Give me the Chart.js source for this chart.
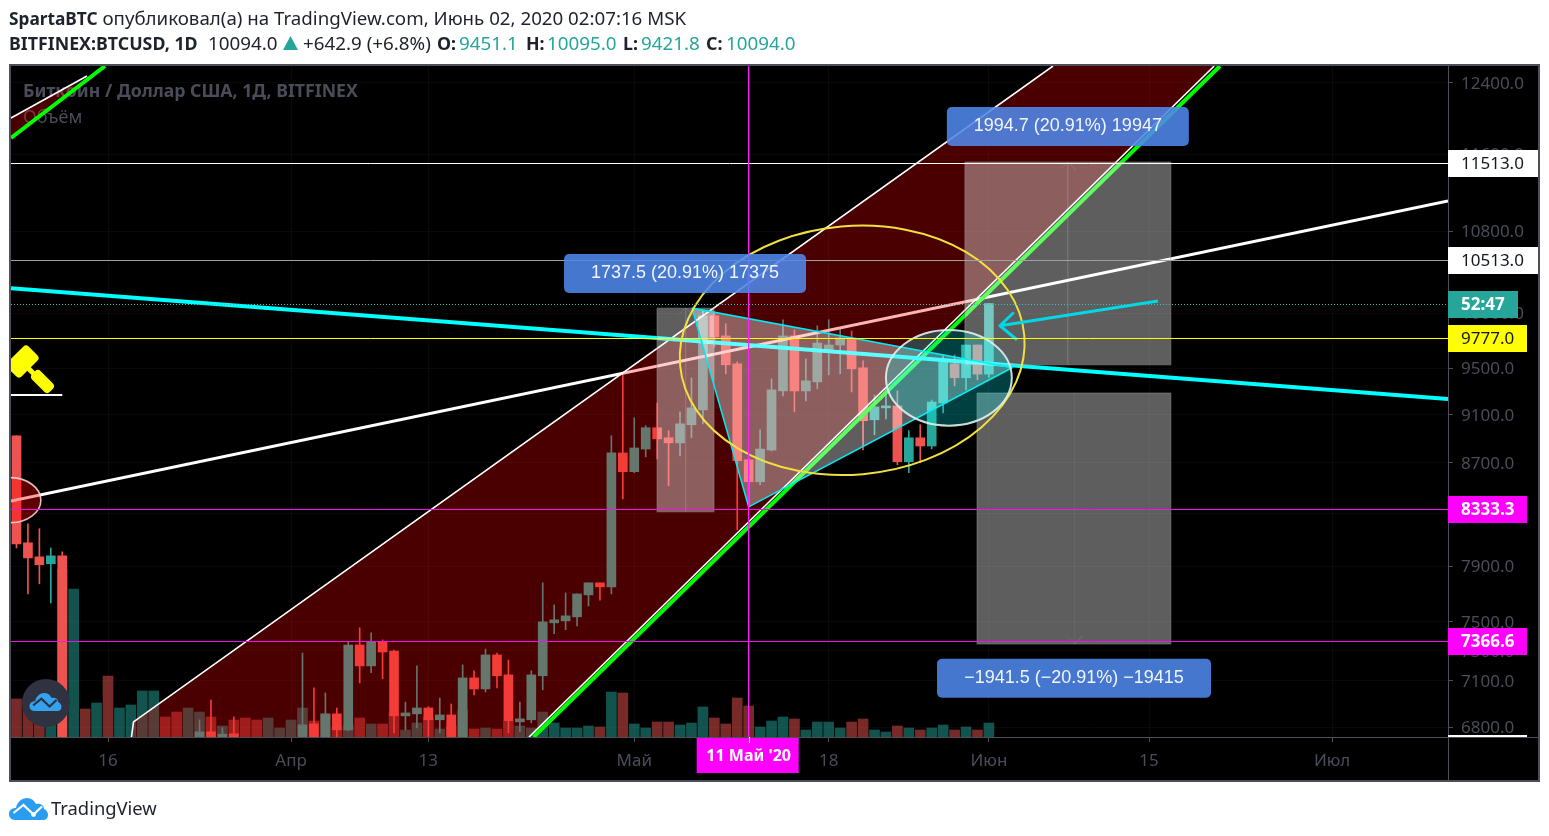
<!DOCTYPE html>
<html><head><meta charset="utf-8">
<style>
html,body{margin:0;padding:0;background:#fff;width:1549px;height:836px;overflow:hidden}
canvas{position:absolute;left:0;top:0}
.t{position:absolute;white-space:nowrap;font:18.8px "Noto Sans",sans-serif;color:#1e222d;line-height:24px}
.b{font-weight:700;font-size:17.8px}.v{color:#26a69a}
svg{position:absolute}
</style>
<script src="https://cdn.jsdelivr.net/npm/chart.js@4/dist/chart.umd.min.js"></script>
</head><body>
<canvas id="c" width="1549" height="836"></canvas>
<div class="t" style="left:9px;top:6px;font-size:18.72px"><span class="b" style="font-size:17.3px">SpartaBTC</span> опубликовал(а) на TradingView.com, Июнь 02, 2020 02:07:16 MSK</div>
<div class="t b" style="left:9px;top:31px">BITFINEX:BTCUSD, 1D</div>
<div class="t" style="left:208px;top:31px">10094.0</div>
<svg style="left:283px;top:36px" width="15" height="14"><path d="M7.5 0L15 14H0Z" fill="#26a69a"/></svg>
<div class="t" style="left:303px;top:31px">+642.9 (+6.8%)</div>
<div class="t b" style="left:437px;top:31px">O:</div><div class="t v" style="left:459px;top:31px">9451.1</div>
<div class="t b" style="left:526px;top:31px">H:</div><div class="t v" style="left:547px;top:31px">10095.0</div>
<div class="t b" style="left:623px;top:31px">L:</div><div class="t v" style="left:641px;top:31px">9421.8</div>
<div class="t b" style="left:706px;top:31px">C:</div><div class="t v" style="left:726px;top:31px">10094.0</div>
<svg style="left:22px;top:679px" width="48" height="48" viewBox="0 0 48 48"><circle cx="24" cy="24" r="24" fill="#2f3241"/><g transform="translate(7.5,14) scale(.82)"><path d="M6 22C2 22 0 19 0 16C0 12 3 10 7 10C8 4 13 0 18 0C22 0 25 2 27 6C32 5 35 8 35 11C38 12 39 15 39 17C39 20 37 22 34 22Z" fill="#35a2f0"/><path d="M4.5 15L14.5 7L24.5 16.5L33 8.5" fill="none" stroke="#2f3241" stroke-width="2.6"/></g></svg>
<svg style="left:9px;top:798px" width="39" height="22" viewBox="0 0 39 22"><path d="M6 22C2 22 0 19 0 16C0 12 3 10 7 10C8 4 13 0 18 0C22 0 25 2 27 6C32 5 35 8 35 11C38 12 39 15 39 17C39 20 37 22 34 22Z" fill="#2b9df0"/><path d="M4.5 15L14.5 7L24.5 16.5L33 8.5" fill="none" stroke="#fff" stroke-width="2.2"/><circle cx="24.5" cy="16.5" r="2.4" fill="#fff"/></svg>
<div class="t" style="left:51px;top:796px;font-size:18.4px">TradingView</div>
<script>
// ---------- axes ----------
const xMin = -8.48, xMax = 117.13;           // days since 16 March 2020
const yMin = 6737, yMax = 12598;             // price, log scale
const xTickDays = [0, 16, 28, 46, 63, 77, 91, 107];
const xTickLabels = ['16', 'Апр', '13', 'Май', '18', 'Июн', '15', 'Июл'];
const priceTicks = [12400, 11600, 10800, 10000, 9500, 9100, 8700, 8300, 7900, 7500, 7300, 7100, 6800];

// ---------- candles ----------
const candleDays = [-8,-7,-6,-5,-4,8,9,10,11,17,18,19,20,21,22,23,24,25,26,27,28,29,30,31,32,33,34,35,36,37,38,39,40,41,42,43,44,45,46,47,48,49,50,51,52,53,54,55,56,57,58,59,60,61,62,63,64,65,66,67,68,69,70,71,72,73,74,75,76,77];
const opens  = [8923,8075,7970,7919,7977,6640,6770,6650,6757,6640,6820,6700,6884,6782,7341,7199,7362,7299,6871,6884,6922,6846,6877,6640,7119,7046,7273,7139,6833,6846,7133,7494,7508,7536,7692,7779,7750,8781,8629,8813,8990,8906,8864,9015,9141,9980,9794,9542,8725,8548,8805,9304,9794,9304,9383,9656,9711,9766,9507,9057,9158,9175,8709,8906,8838,9200,9542,9419,9711,9451.1];
const highs  = [8923,8220,8182,8036,8007,6846,6973,6795,6865,7286,7053,7020,6922,7362,7460,7425,7376,7306,6960,7199,6930,6986,6948,7206,7166,7313,7286,7239,6960,7166,7779,7620,7706,7699,7779,7779,8923,9445,9074,9007,9200,8965,9124,9419,10035,10017,9906,9559,8741,8973,9410,9943,9849,9586,9887,9943,9859,9840,9568,9269,9313,9304,8965,9015,9225,9621,9621,9711,9711,10095];
const lows   = [8036,7699,7772,7634,4700,6590,6580,6600,6560,6550,6650,6650,6737,6776,7086,7153,7113,6763,6782,6795,6720,6763,6560,6620,7006,7026,7053,6763,6770,6827,7040,7418,7446,7473,7613,7655,7699,8412,8621,8749,8733,8516,8757,8906,9023,9693,9454,8174,8366,8524,8797,9260,9124,9217,9322,9445,9454,9295,8805,8931,9065,8685,8621,8701,8813,9116,9348,9313,9401,9421.8];
const closes = [8067,7962,7911,7977,4900,6770,6650,6755,6640,6814,6700,6884,6782,7341,7199,7362,7293,6871,6890,6922,6846,6877,6640,7119,7046,7273,7133,6840,6852,7139,7501,7515,7543,7699,7779,7750,8781,8629,8822,8990,8897,8864,9023,9158,9980,9785,9533,8717,8548,8813,9313,9794,9304,9392,9729,9711,9775,9498,9049,9166,9175,8709,8906,8838,9208,9559,9419,9711,9451,10094];

// ---------- volume (first entry is day -8, one per day) ----------
const volumeStartDay = -8;
const volumes = [38,38,32,37,168,148,28,34,61,29,32,46,46,20,25,29,25,20,11,17,19,17,19,9,17,29,16,23,10,12,19,13,13,24,7,14,20,8,11,27,8,9,8,16,11,9,25,14,9,9,11,10,45,44,13,9,15,15,12,14,30,19,13,39,31,10,16,20,18,7,15,15,9,15,18,7,5,11,9,7,9,12,7,10,7,14];
const volumeUp = [0,0,0,1,0,1,0,1,0,1,1,1,1,0,0,1,1,0,1,0,0,0,1,1,1,1,0,1,0,1,0,1,0,0,1,1,0,1,0,1,0,1,0,0,1,1,1,1,1,1,1,0,1,0,1,1,0,0,1,1,1,0,0,0,0,1,1,1,0,1,1,1,1,0,0,1,1,0,1,0,1,1,0,1,0,1];
const volumeAxisMax = 671;

// ---------- drawings, anchored in [day, price] ----------
const levelPrices = {white:11513, grey:10513, last:10094, yellow:9777, m1:8333.3, m2:7366.6};
const cyanTrend = [[-8.48,10240],[117.13,9234]];
const whiteTrend = [[-8.48,8396],[117.13,11107]];
const channelShape = [[2.05,6737],[2.23,6833],[82.6,12598],[96.7,12598],[36.8,6737],[2.05,6737]];
const channelUpper = [[2.05,6737],[2.23,6833],[82.6,12598]];
const channelLower = [[36.8,6737],[96.7,12598]];
const channelGreen = [[37.2,6737],[97.2,12598]];
const miniShape = [[-8.48,12002],[-1.84,12481],[-8.48,11800],[-8.48,12002]];
const miniUpper = [[-8.48,12002],[-1.84,12481]];
const miniGreen = [[-8.48,11780],[-0.26,12598]];
const triangle = [[51.05,10051],[56.0,8350],[79.02,9507],[51.05,10051]];
const rectA = [[47.99,10051],[52.97,10051],[52.97,8312],[47.99,8312],[47.99,10051]];
const rectB = [[74.9,11519],[92.9,11519],[92.9,9533],[74.9,9533],[74.9,11519]];
const rectC = [[75.96,9287],[92.9,9287],[92.9,7348],[75.96,7348],[75.96,9287]];
const rectAStem = [[49.8,9980],[50.5,10051],[51.2,9980],[50.5,10051],[50.5,8312]];
const rectBStem = [[83.2,11433],[83.9,11519],[84.6,11433],[83.9,11519],[83.9,9533]];
const rectCStem = [[83.8,7404],[84.5,7348],[85.2,7404],[84.5,7348],[84.5,9287]];
const arrowPath = [[91.78,10118],[77.97,9887],[79.1,10003],[77.97,9887],[79.46,9757]];
const gavelBase = [[-8.48,9269],[-4,9269]];
const markerDay = 56;
// [day, price top, price bottom, half width in days, tilt in degrees]
const yellowEllipse = [65.05,10851,8605,15.1,-5];
const tealEllipse = [73.5,9849,9007,5.5,0];
const redEllipse = [-8.57,8581,8228,2.7,0];
// box labels
const boxTexts = ['1737.5 (20.91%) 17375','1994.7 (20.91%) 19947','−1941.5 (−20.91%) −19415'];
const boxDays = [50.44,83.9,84.44];
const boxPrices = [10381,11907,7116];
const boxWidths = [242,242,274];
// price tags on the right axis
const tagTexts = ['11513.0','10513.0','52:47','9777.0','8333.3','7366.6'];
const tagPrices = [11513,10513,10094,9777,8333.3,7366.6];

// ---------- styles ----------
const UP='#26a69a', DOWN='#ef5350', UPV='rgba(38,166,154,.5)', DOWNV='rgba(239,83,80,.5)';
const AXIS='#4c4e5a', LABEL='#4a4d59';
const tagFill=['#fff','#fff','#26a69a','#ffff00','#ff00ff','#ff00ff'];
const tagInk=['#131722','#131722','#fff','#131722','#fff','#fff'];
const tagWidth=[90,90,70,79,79,79];
const tagBold=[false,false,true,false,true,true];
const PANEL='rgba(255,255,255,.37)';

const pts = a => a.map(p => ({x:p[0], y:p[1]}));
const line = (data, color, width, order, extra) => Object.assign({
  type:'line', data:pts(data), borderColor:color, borderWidth:width, pointRadius:0, tension:0,
  fill:false, order, xAxisID:'x', yAxisID:'y', clip:0, borderJoinStyle:'round'}, extra||{});
const shape = (data, color, order, label) => line(data,'transparent',0,order,{fill:'shape',backgroundColor:color,label});
const level = (p, color, width, order, extra) => line([[xMin,p],[xMax,p]],color,width,order,Object.assign({label:'snap'},extra||{}));

const up = candleDays.map((d,i)=>closes[i]>=opens[i]);
const datasets = [
  {type:'bar',order:100,xAxisID:'x',yAxisID:'yVol',grouped:false,barThickness:10,
   data:volumes.map((v,i)=>({x:volumeStartDay+i,y:v})),
   backgroundColor:volumeUp.map(u=>u?UPV:DOWNV)},
  {type:'bar',order:90,xAxisID:'x',yAxisID:'y',grouped:false,barThickness:1,
   data:candleDays.map((d,i)=>({x:d,y:[lows[i],highs[i]]})),
   backgroundColor:up.map(u=>u?UP:DOWN)},
  {type:'bar',order:89,xAxisID:'x',yAxisID:'y',grouped:false,barThickness:9,
   data:candleDays.map((d,i)=>({x:d,y:[opens[i],closes[i]]})),
   backgroundColor:up.map(u=>u?UP:DOWN)},
  line(whiteTrend,'#ffffff',3,80),
  shape(channelShape,'rgba(255,0,0,.29)',70),
  shape(miniShape,'rgba(255,0,0,.29)',70),
  line(channelUpper,'#ffffff',1.6,69),
  line(channelLower,'#ffffff',1.6,69),
  line(miniUpper,'#ffffff',1.6,69),
  line(channelGreen,'#00ff00',4,68),
  line(miniGreen,'#00ff00',4,68),
  line(cyanTrend,'#00ffff',4,60),
  shape(rectA,PANEL,50), shape(rectB,PANEL,50), shape(rectC,PANEL,50),
  line(rectA,'rgba(150,150,150,.35)',1.5,49), line(rectB,'rgba(150,150,150,.35)',1.5,49), line(rectC,'rgba(150,150,150,.35)',1.5,49),
  line(rectAStem,'rgba(255,255,255,.07)',1,48), line(rectBStem,'rgba(255,255,255,.07)',1,48), line(rectCStem,'rgba(255,255,255,.07)',1,48),
  shape(triangle,PANEL,47),
  line(triangle,'#00e8f0',1.6,46,{label:'triangle'}),
  line(arrowPath,'#00d8e8',3,30),
  level(levelPrices.last,'#30c8c0',1,25,{borderDash:[1,2]}),
  level(levelPrices.white,'#ffffff',1,24),
  level(levelPrices.grey,'#a0a0a0',1,24),
  level(levelPrices.yellow,'#ffff00',1,24),
  level(levelPrices.m1,'#f010f0',1,24),
  level(levelPrices.m2,'#f010f0',1,24),
  line([[markerDay,yMin],[markerDay,yMax]],'#ff20ff',1.3,23),
  line(gavelBase,'#ffffff',2,22)
];

function drawEllipse(ctx, sx, sy, e, fill, stroke, width){
  const [d,pTop,pBot,hw,tilt]=e;
  const cx=sx.getPixelForValue(d), top=sy.getPixelForValue(pTop), bot=sy.getPixelForValue(pBot);
  const rx=sx.getPixelForValue(d+hw)-cx;
  ctx.beginPath();
  ctx.ellipse(cx,(top+bot)/2,rx,(bot-top)/2,tilt*Math.PI/180,0,Math.PI*2);
  if(fill){ctx.fillStyle=fill;ctx.fill();}
  ctx.strokeStyle=stroke;ctx.lineWidth=width;ctx.stroke();
}
function rotatedBox(c,cx,cy,w,h,r,deg){
  c.save();c.translate(cx,cy);c.rotate(deg*Math.PI/180);
  c.beginPath();c.roundRect(-w/2,-h/2,w,h,r);c.fill();c.restore();
}

const chrome = {
  id:'chrome',
  beforeDraw(ch){
    const c=ch.ctx;
    c.save();c.fillStyle='#000';c.fillRect(10,65,1529,716);c.restore();
    // keep one-pixel rules crisp: snap them to the pixel row the scale gives
    ch.data.datasets.forEach((ds,i)=>{
      if(ds.label==='snap') ch.getDatasetMeta(i).data.forEach(p=>{p.y=Math.round(p.y)+.5;});
    });
  },
  beforeDatasetsDraw(ch){
    const c=ch.ctx, a=ch.chartArea;
    c.save();c.fillStyle=LABEL;c.textBaseline='middle';c.textAlign='left';
    c.font='700 17.7px "Noto Sans"';c.fillText('Биткоин / Доллар США, 1Д, BITFINEX',a.left+12,92);
    c.font='18px "Noto Sans"';c.fillText('Объём',a.left+12,118);
    c.restore();
  },
  afterDatasetDraw(ch,args){
    if(ch.data.datasets[args.index].label!=='triangle')return;
    const c=ch.ctx,a=ch.chartArea,sx=ch.scales.x,sy=ch.scales.y;
    c.save();c.beginPath();c.rect(a.left,a.top,a.right-a.left,a.bottom-a.top);c.clip();
    drawEllipse(c,sx,sy,yellowEllipse,null,'#f0e040',2);
    drawEllipse(c,sx,sy,tealEllipse,'rgba(0,255,255,.25)','rgba(225,240,240,.9)',2);
    drawEllipse(c,sx,sy,redEllipse,'rgba(255,0,0,.37)','rgba(255,220,220,.85)',1.6);
    c.restore();
  },
  afterDatasetsDraw(ch){
    const c=ch.ctx,a=ch.chartArea,sx=ch.scales.x,sy=ch.scales.y;
    c.save();
    // gavel icon
    c.beginPath();c.rect(a.left,a.top,a.right-a.left,a.bottom-a.top);c.clip();
    c.fillStyle='#ffff00';
    rotatedBox(c,22.5,361.5,30,20,4,-45);
    rotatedBox(c,31.5,371.5,12,5,0,45);
    rotatedBox(c,42.5,381.5,25,12,4,45);
    // measure boxes
    c.font='18px "Liberation Sans"';c.textAlign='center';c.textBaseline='middle';
    boxTexts.forEach((t,i)=>{
      const x=sx.getPixelForValue(boxDays[i]),y=sy.getPixelForValue(boxPrices[i]),w=boxWidths[i];
      c.fillStyle='rgba(80,135,235,.88)';c.beginPath();c.roundRect(x-w/2,y-19.5,w,39,5);c.fill();
      c.fillStyle='rgba(255,255,255,.92)';c.fillText(t,x,y);
    });
    c.restore();
  },
  afterDraw(ch){
    const c=ch.ctx,a=ch.chartArea,sx=ch.scales.x,sy=ch.scales.y;
    c.save();
    c.strokeStyle=AXIS;c.lineWidth=1;
    c.beginPath();c.moveTo(a.left,a.bottom+.5);c.lineTo(1538,a.bottom+.5);c.stroke();
    c.beginPath();c.moveTo(a.right+.5,a.top);c.lineTo(a.right+.5,781);c.stroke();
    c.lineWidth=2;c.strokeRect(10,65,1529,716);
    // white strip of a tag just below the axis range
    c.fillStyle='#fff';c.fillRect(a.right,735,79,2);
    // price tags
    c.textBaseline='middle';c.textAlign='left';
    tagTexts.forEach((t,i)=>{
      const y=Math.round(sy.getPixelForValue(tagPrices[i]));
      c.fillStyle=tagFill[i];c.fillRect(a.right,y-13,tagWidth[i],27);
      c.fillStyle=tagInk[i];c.font=(tagBold[i]?'700 ':'')+'17px "Noto Sans"';
      c.fillText(t,a.right+13,y+1.5);
    });
    // crosshair date tag
    const mx=sx.getPixelForValue(markerDay);
    c.fillStyle='#ff00ff';c.fillRect(mx-52,738,102,35);
    c.fillStyle='#fff';c.fillRect(Math.round(mx),737,1,6);
    c.font='700 16px "Noto Sans"';c.textAlign='center';c.fillText('11 Май \'20',mx,756);
    c.restore();
  }
};

new Chart(document.getElementById('c'),{
  type:'bar',
  data:{datasets},
  plugins:[chrome],
  options:{
    responsive:false,animation:false,devicePixelRatio:1,
    layout:{padding:{left:11,top:66,right:11,bottom:55}},
    plugins:{legend:{display:false},tooltip:{enabled:false}},
    events:[],
    scales:{
      x:{type:'linear',position:'bottom',min:xMin,max:xMax,bounds:'data',offset:false,
         grid:{offset:false,color:'rgba(255,255,255,.035)',tickColor:AXIS,tickLength:5},
         border:{color:AXIS},
         afterBuildTicks:s=>{s.ticks=xTickDays.map(v=>({value:v}));},
         afterFit:s=>{s.height=44;},
         ticks:{color:LABEL,font:{family:'"Noto Sans"',size:17},autoSkip:false,maxRotation:0,padding:9,
                callback:(v,i)=>xTickLabels[i]}},
      y:{type:'logarithmic',position:'right',min:yMin,max:yMax,bounds:'data',
         grid:{color:'rgba(255,255,255,.03)',tickColor:AXIS,tickLength:5},
         border:{color:AXIS},
         afterBuildTicks:s=>{s.ticks=priceTicks.map(v=>({value:v}));},
         afterFit:s=>{s.width=90;},
         ticks:{color:LABEL,font:{family:'"Noto Sans"',size:17},autoSkip:false,padding:8,labelOffset:1,
                callback:v=>Number(v).toFixed(1)}},
      yVol:{type:'linear',display:false,min:0,max:volumeAxisMax,position:'right'}
    }
  }
});
</script>
</body></html>
